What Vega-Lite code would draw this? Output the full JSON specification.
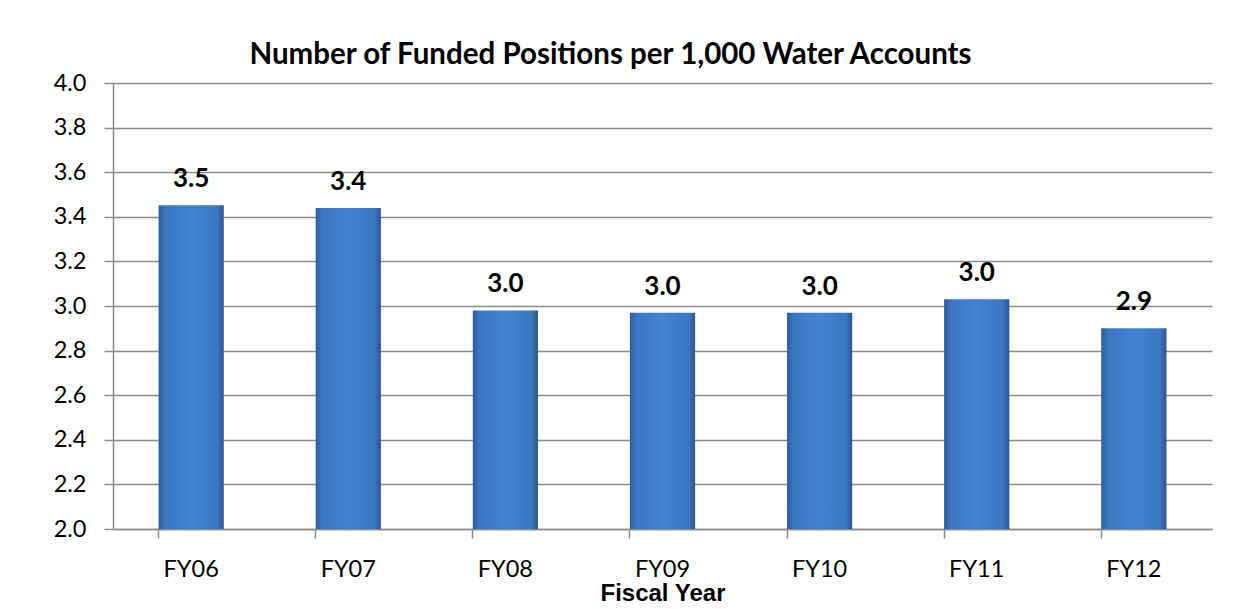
{
  "$schema": "https://vega.github.io/schema/vega-lite/v6.json",
  "autosize": {"type": "none"},
  "width": 1099,
  "height": 446,
  "padding": {"left": 113, "top": 83, "right": 32, "bottom": 80},
  "background": "white",
  "title": {
    "text": "Number of Funded Positions per 1,000 Water Accounts",
    "font": "Lato",
    "fontSize": 29.5,
    "fontWeight": "bold",
    "color": "black",
    "anchor": "middle",
    "dx": -52,
    "offset": 1
  },
  "data": {
    "values": [
      {"year": "FY06", "value": 3.452},
      {"year": "FY07", "value": 3.44},
      {"year": "FY08", "value": 2.98},
      {"year": "FY09", "value": 2.97},
      {"year": "FY10", "value": 2.97},
      {"year": "FY11", "value": 3.03},
      {"year": "FY12", "value": 2.9}
    ]
  },
  "config": {
    "view": {"stroke": null},
    "axis": {
      "labelFont": "Lato",
      "labelFontSize": 23.5,
      "labelColor": "black",
      "domainColor": "#8c8c8c",
      "domainWidth": 1.5,
      "tickColor": "#8c8c8c",
      "tickWidth": 1.5,
      "tickSize": 9,
      "gridColor": "#8c8c8c",
      "gridWidth": 1.5
    }
  },
  "encoding": {
    "x": {
      "field": "year",
      "type": "nominal",
      "sort": null,
      "scale": {"paddingInner": 0.585, "paddingOuter": 0.29},
      "axis": {
        "title": "Fiscal Year",
        "titleFont": "Liberation Sans",
        "titleFontSize": 24,
        "titleFontWeight": "bold",
        "titleColor": "black",
        "titlePadding": 1,
        "labelAngle": 0,
        "labelPadding": 19,
        "bandPosition": 0,
        "ticks": true
      }
    },
    "y": {
      "field": "value",
      "type": "quantitative",
      "scale": {"domain": [2.0, 4.0], "zero": false, "nice": false},
      "axis": {
        "title": null,
        "values": [2.0, 2.2, 2.4, 2.6, 2.8, 3.0, 3.2, 3.4, 3.6, 3.8, 4.0],
        "format": ".1f",
        "grid": true,
        "labelPadding": 18
      }
    }
  },
  "layer": [
    {
      "mark": {
        "type": "bar",
        "color": {
          "gradient": "linear",
          "x1": 0, "x2": 1, "y1": 0, "y2": 0,
          "stops": [
            {"offset": 0, "color": "#2d5d9c"},
            {"offset": 0.1, "color": "#3b77c2"},
            {"offset": 0.5, "color": "#4183d2"},
            {"offset": 0.9, "color": "#3b77c2"},
            {"offset": 1, "color": "#2a568f"}
          ]
        }
      },
      "encoding": {"y2": {"datum": 2.0}}
    },
    {
      "mark": {
        "type": "text",
        "font": "Lato",
        "fontSize": 26,
        "fontWeight": "bold",
        "color": "black",
        "baseline": "alphabetic",
        "dy": -18
      },
      "encoding": {
        "text": {"field": "value", "type": "quantitative", "format": ".1f"}
      }
    }
  ]
}
